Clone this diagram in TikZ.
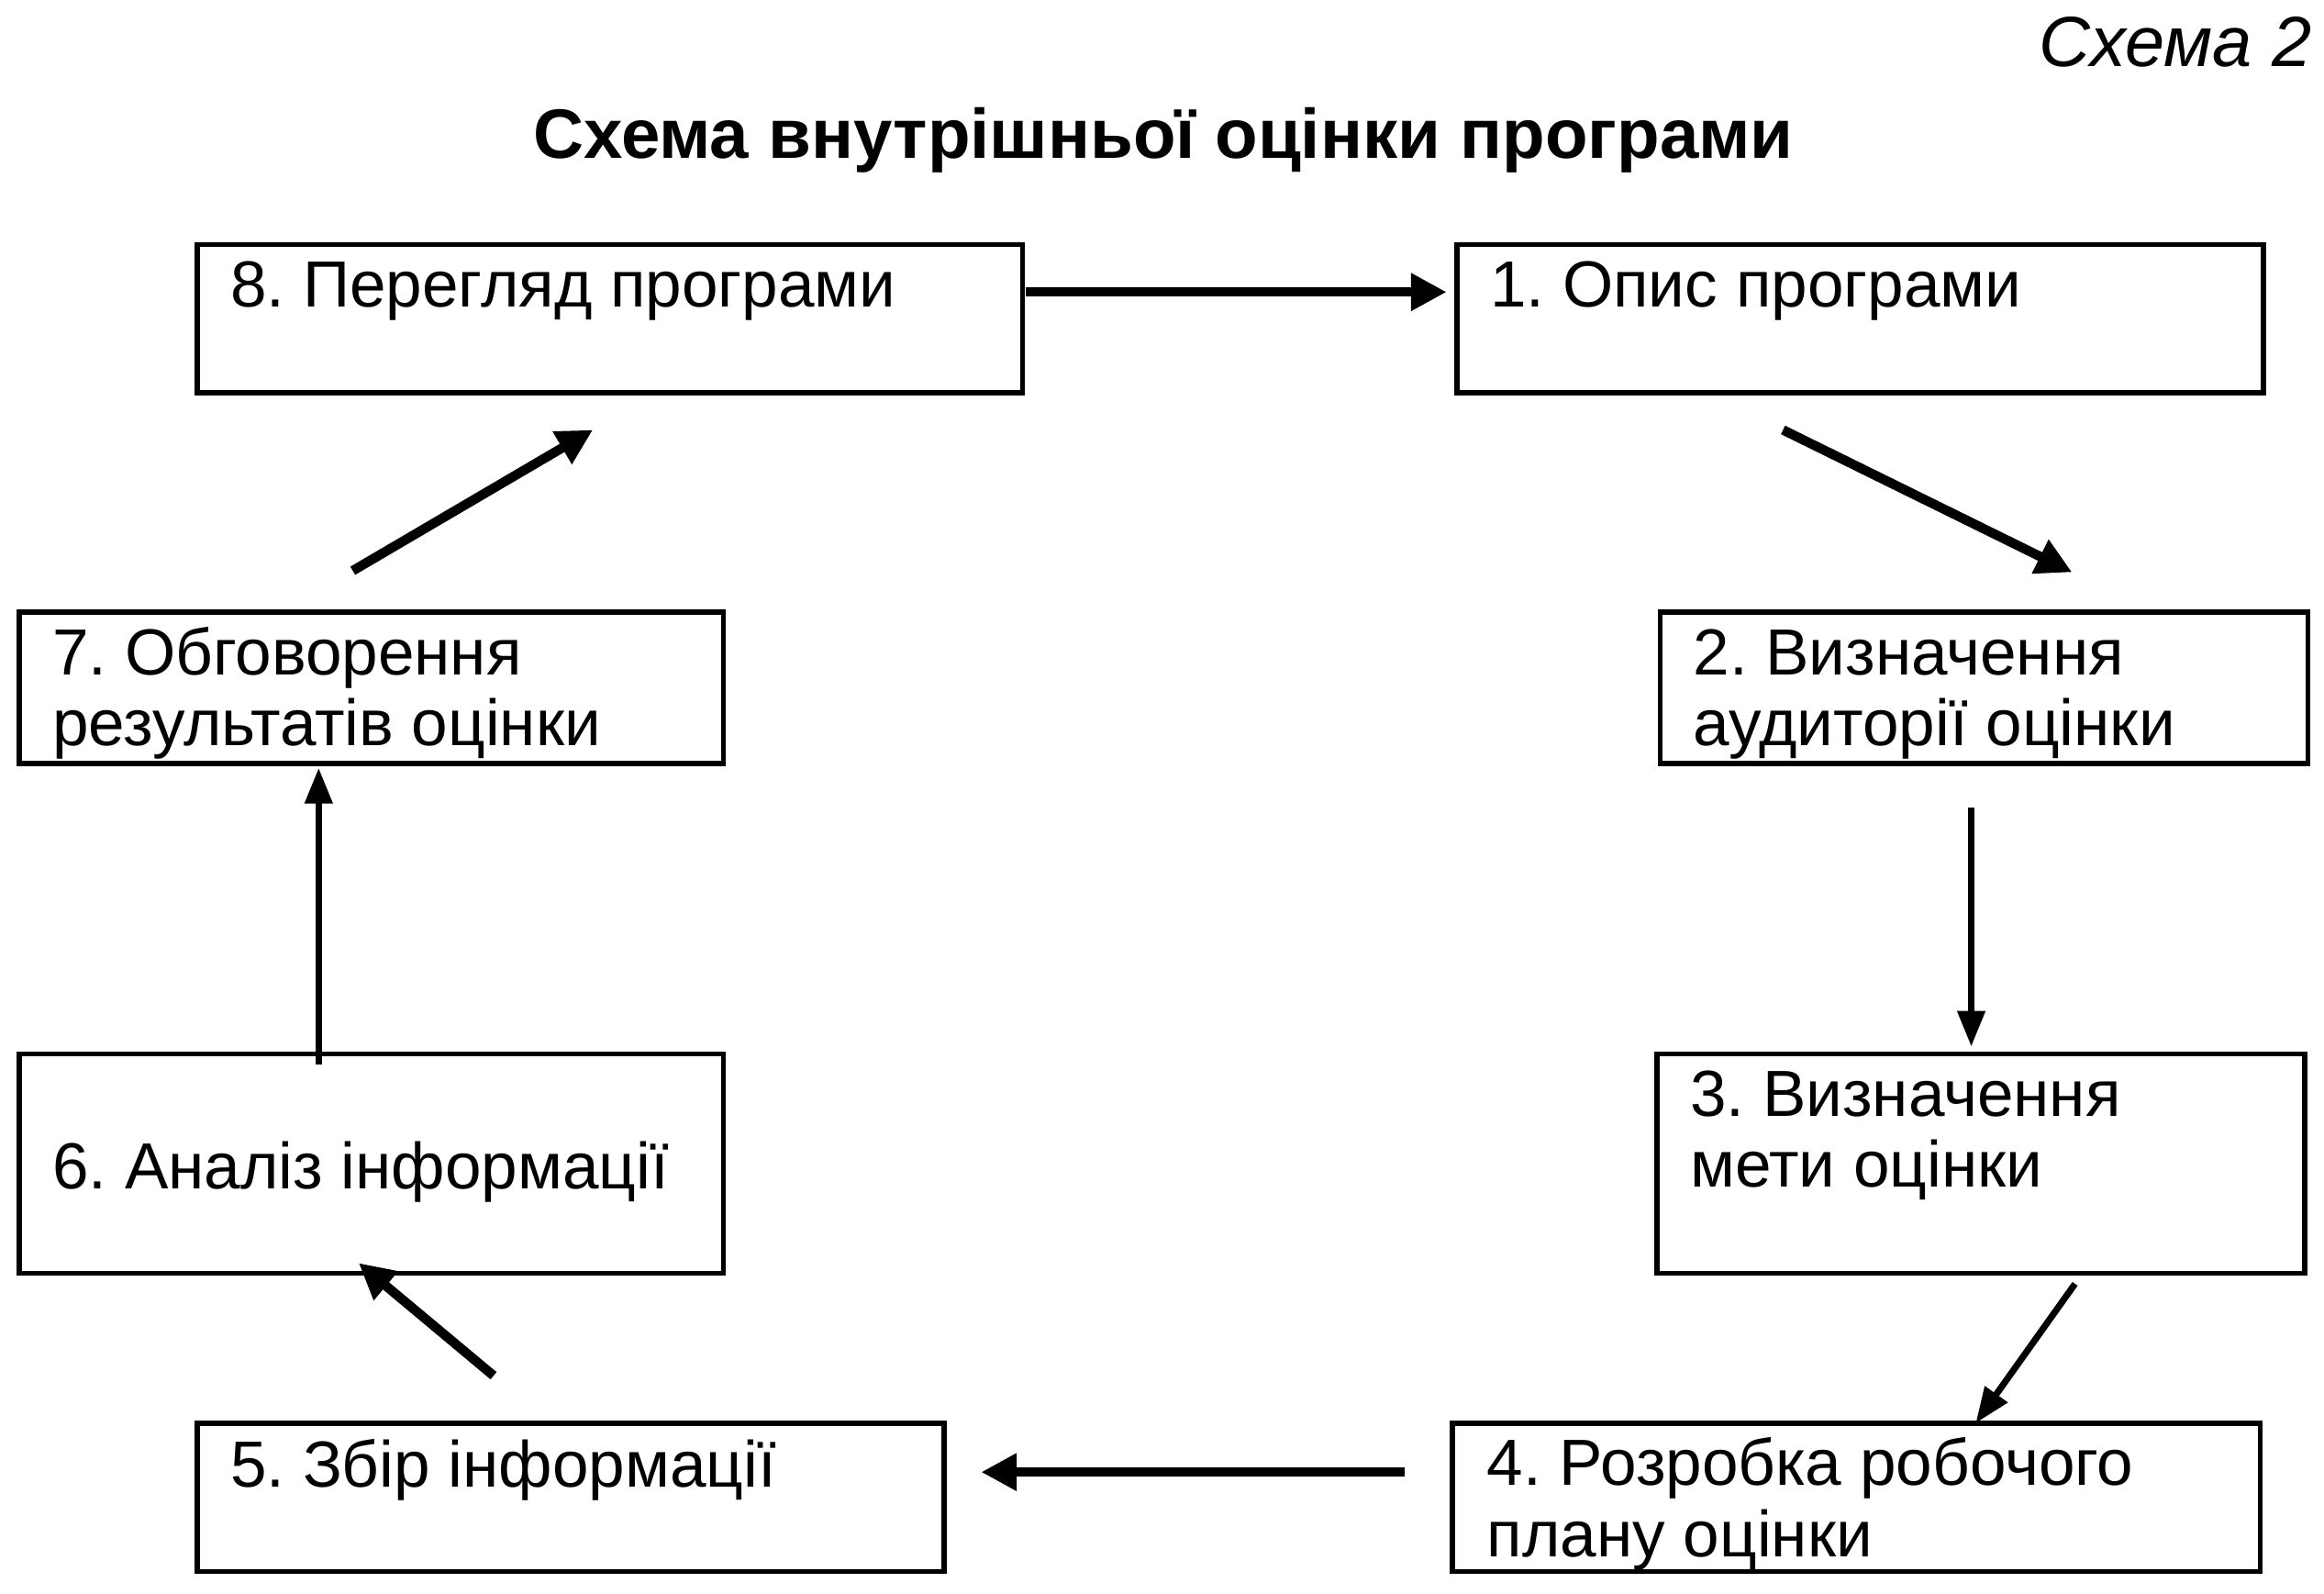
\documentclass[tikz,border=0pt]{standalone}
\usepackage{fontspec}
\setmainfont{Liberation Sans}
\usetikzlibrary{arrows.meta}
\frenchspacing
\begin{document}
\begin{tikzpicture}[x=0.5pt,y=-0.5pt,
  box/.style={draw=black, line width=1.7pt, rectangle, inner sep=0pt, fill=white},
  lbl/.style={anchor=base west, inner sep=0pt, align=left, font=\fontsize{22}{24}\selectfont},
  arr/.style={line width=3.2pt, -{Triangle[length=12pt,width=12pt]}},
  tarr/.style={line width=2.2pt, -{Triangle[length=12pt,width=9pt]}}]
\fill[white] (0,0) rectangle (1568,1075);
\useasboundingbox (0,0) rectangle (1568,1075);
% header
\node[anchor=base east, inner sep=0pt, font=\itshape\fontsize{24}{26}\selectfont] (sch) at (1560,45) {Схема 2};
\node[anchor=base, inner sep=0pt, font=\bfseries\fontsize{23.6}{28}\selectfont] (title) at (785,107) {Схема внутрішньої оцінки програми};
% boxes
\node[box, minimum width=278.5pt, minimum height=50pt] (b8) at (411.5,215) {};
\node[box, minimum width=272pt, minimum height=50pt] (b1) at (1255,215) {};
\node[box, minimum width=237.5pt, minimum height=51pt] (b7) at (250.5,464) {};
\node[box, minimum width=218.5pt, minimum height=51pt] (b2) at (1338.5,464) {};
\node[box, minimum width=237.5pt, minimum height=74pt] (b6) at (250.5,785) {};
\node[box, minimum width=218.5pt, minimum height=74pt] (b3) at (1336.5,785) {};
\node[box, minimum width=272.5pt, minimum height=50pt] (b4) at (1252.5,1010) {};
\node[box, minimum width=252pt, minimum height=50pt] (b5) at (385,1010) {};
% texts (base anchor = baseline of the last line)
\node[lbl] (t8) at (155,207) {8. Перегляд програми};
\node[lbl] (t1) at (1005,207) {1. Опис програми};
\node[lbl] (t7) at (35,503) {7. Обговорення\\результатів оцінки};
\node[lbl] (t2) at (1142,503) {2. Визначення\\аудиторії оцінки};
\node[lbl] (t6) at (35,802) {6. Аналіз інформації};
\node[lbl] (t3) at (1140,801) {3. Визначення\\мети оцінки};
\node[lbl] (t4) at (1003,1050) {4. Розробка робочого\\плану оцінки};
\node[lbl] (t5) at (155,1003) {5. Збір інформації};
% arrow end points
\coordinate (a81s) at (692,197);  \coordinate (a81e) at (976,197);
\coordinate (a12s) at (1203,290); \coordinate (a12e) at (1398,386);
\coordinate (a23s) at (1330,545); \coordinate (a23e) at (1330,706);
\coordinate (a34s) at (1400,866); \coordinate (a34e) at (1333,960);
\coordinate (a45s) at (948,993);  \coordinate (a45e) at (662,993);
\coordinate (a56s) at (333,928);  \coordinate (a56e) at (242,852);
\coordinate (a67s) at (215,718);  \coordinate (a67e) at (215,518);
\coordinate (a78s) at (238,385);  \coordinate (a78e) at (400,290);
% arrows
\draw[arr] (a81s) -- (a81e);
\draw[arr] (a12s) -- (a12e);
\draw[tarr] (a23s) -- (a23e);
\draw[tarr] (a34s) -- (a34e);
\draw[arr] (a45s) -- (a45e);
\draw[arr] (a56s) -- (a56e);
\draw[tarr] (a67s) -- (a67e);
\draw[arr] (a78s) -- (a78e);
\end{tikzpicture}
\end{document}
